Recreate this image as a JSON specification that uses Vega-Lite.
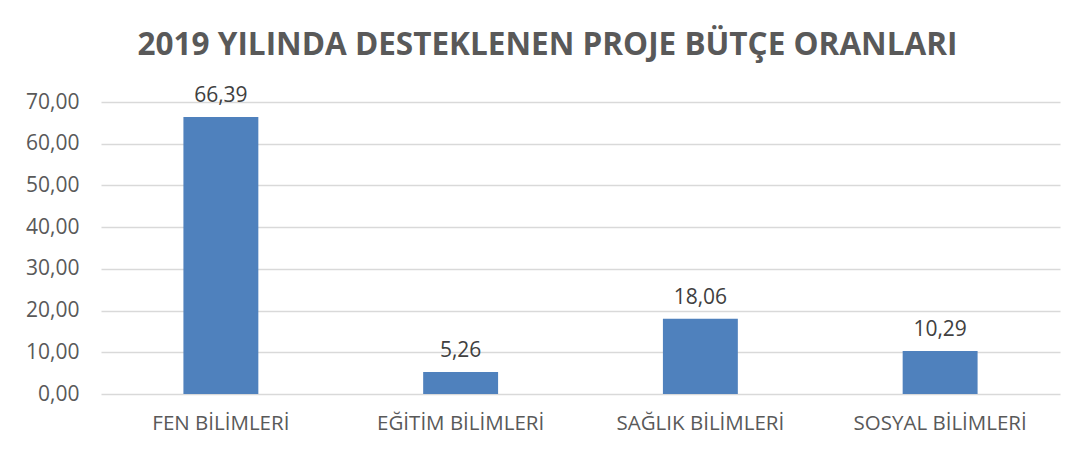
{
  "$schema": "https://vega.github.io/schema/vega-lite/v6.json",
  "width": 959,
  "height": 292,
  "autosize": "none",
  "padding": {"left": 101, "top": 102, "right": 23, "bottom": 59},
  "background": "white",
  "config": {
    "locale": {"number": {"decimal": ",", "thousands": ".", "grouping": [3], "currency": ["", " ₺"]}},
    "view": {"stroke": null},
    "font": "Open Sans"
  },
  "title": {
    "text": "2019 YILINDA DESTEKLENEN PROJE BÜTÇE ORANLARI",
    "font": "Open Sans",
    "fontSize": 31.5,
    "fontWeight": "bold",
    "color": "#595959",
    "anchor": "middle",
    "dx": -33,
    "offset": 24
  },
  "data": {
    "values": [
      {"alan": "FEN BİLİMLERİ", "oran": 66.39},
      {"alan": "EĞİTİM BİLİMLERİ", "oran": 5.26},
      {"alan": "SAĞLIK BİLİMLERİ", "oran": 18.06},
      {"alan": "SOSYAL BİLİMLERİ", "oran": 10.29}
    ]
  },
  "encoding": {
    "x": {
      "field": "alan",
      "type": "nominal",
      "sort": null,
      "scale": {"paddingInner": 0.6875, "paddingOuter": 0.34375},
      "axis": {
        "title": null,
        "labelAngle": 0,
        "labelFont": "Open Sans",
        "labelFontSize": 20.5,
        "labelColor": "#595959",
        "labelPadding": 19,
        "ticks": false,
        "domain": false
      }
    },
    "y": {
      "field": "oran",
      "type": "quantitative",
      "scale": {"domain": [0, 70]},
      "axis": {
        "title": null,
        "values": [0, 10, 20, 30, 40, 50, 60, 70],
        "format": ".2f",
        "labelFont": "Open Sans",
        "labelFontSize": 21,
        "labelColor": "#595959",
        "labelPadding": 22,
        "ticks": false,
        "domain": false,
        "grid": true,
        "gridColor": "#D9D9D9",
        "gridWidth": 1.3
      }
    }
  },
  "layer": [
    {"mark": {"type": "bar", "color": "#4F81BD"}},
    {
      "mark": {"type": "text", "baseline": "bottom", "dy": -11, "font": "Open Sans", "fontSize": 21, "color": "#404040"},
      "encoding": {"text": {"field": "oran", "type": "quantitative", "format": ".2f"}}
    }
  ]
}
